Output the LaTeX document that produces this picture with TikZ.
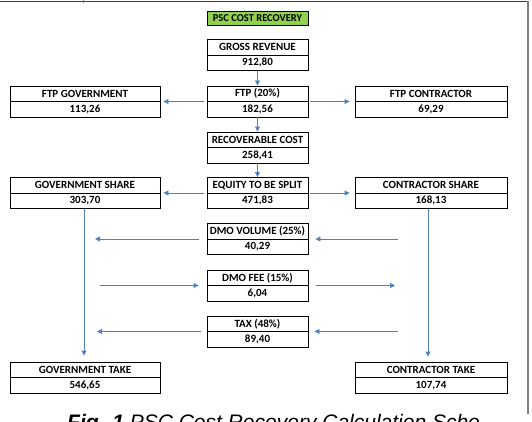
\documentclass[tikz,border=0pt]{standalone}
\usepackage{fontspec}
\setmainfont{Carlito}
\newfontfamily\capfont{Liberation Sans}
\usetikzlibrary{arrows.meta,calc}
\definecolor{arrblue}{RGB}{79,129,189}
\definecolor{titlegreen}{RGB}{146,208,80}
\definecolor{framedark}{RGB}{60,60,60}
\definecolor{framegray}{RGB}{128,128,128}
\tikzset{
  box/.style={draw=black, line width=0.9pt, minimum height=31pt, inner sep=0pt},
  titlebox/.style={draw=black, line width=0.9pt, fill=titlegreen, minimum width=101pt, minimum height=14pt, inner sep=0pt, font=\bfseries\fontsize{10.5}{12}\selectfont},
  txt/.style={font=\bfseries\fontsize{11}{13}\selectfont, inner sep=0pt},
  arr/.style={draw=arrblue, line width=0.9pt, -{Triangle[length=5pt,width=5pt]}},
  frametop/.style={draw=framedark, line width=1.2pt},
  frameside/.style={draw=framegray, line width=1.5pt},
  captext/.style={anchor=base west, inner sep=0pt, font=\capfont\fontsize{21}{24}\selectfont}
}
\newcommand\twobox[6]{%
  \node[box, minimum width=#4] (#1) at (#2,#3) {};
  \draw[line width=0.9pt] (#1.west) -- (#1.east);
  \node[txt] (#1-h) at ($(#1.center)+(0,-7.75)$) {#5};
  \node[txt] (#1-v) at ($(#1.center)+(0,7.75)$) {#6};
}
\begin{document}
\begin{tikzpicture}[x=1pt,y=-1pt]
\useasboundingbox (0,0) rectangle (532,422);
\clip (0,0) rectangle (532,422);
% frame
\draw[frametop] (0,1.5) -- (528,1.5);
\draw[frameside] (528,1) -- (528,414);
\draw[draw=framegray, line width=0.8pt] (83,0) -- (83,3);
% title
\node[titlebox] (title) at (257.5,18.5) {PSC COST RECOVERY};
% boxes
\twobox{gross}{257.5}{55}{101pt}{GROSS REVENUE}{912,80}
\twobox{ftp}{257.5}{101.5}{101pt}{FTP (20\%)}{182,56}
\twobox{ftpgov}{85}{101.5}{150pt}{FTP GOVERNMENT}{113,26}
\twobox{ftpcon}{431}{101.5}{152pt}{FTP CONTRACTOR}{69,29}
\twobox{rec}{257.5}{147.5}{101pt}{RECOVERABLE COST}{258,41}
\twobox{equity}{257.5}{193}{101pt}{EQUITY TO BE SPLIT}{471,83}
\twobox{govsh}{85}{193}{150pt}{GOVERNMENT SHARE}{303,70}
\twobox{consh}{431}{193}{152pt}{CONTRACTOR SHARE}{168,13}
\twobox{dmov}{257.5}{239}{101pt}{DMO VOLUME (25\%)}{40,29}
\twobox{dmof}{257.5}{285.5}{101pt}{DMO FEE (15\%)}{6,04}
\twobox{tax}{257.5}{331.5}{101pt}{TAX (48\%)}{89,40}
\twobox{govtake}{85}{377.5}{150pt}{GOVERNMENT TAKE}{546,65}
\twobox{contake}{431}{377.5}{152pt}{CONTRACTOR TAKE}{107,74}
% free ends
\coordinate (dvL) at (95,239);
\coordinate (dvR) at (398,239);
\coordinate (dfL) at (100,285.5);
\coordinate (dfR) at (395,285.5);
\coordinate (txL) at (97,331.5);
\coordinate (txR) at (398,331.5);
% connectors
\draw[arr] (gross) -- (ftp);
\draw[arr] (ftp) -- (rec);
\draw[arr] (rec) -- (equity);
\draw[arr] ([xshift=-3pt]ftp.west) -- ([xshift=3pt]ftpgov.east);
\draw[arr] ([xshift=2pt]ftp.east) -- ([xshift=-5pt]ftpcon.west);
\draw[arr] ([xshift=-3pt]equity.west) -- ([xshift=3pt]govsh.east);
\draw[arr] ([xshift=2pt]equity.east) -- ([xshift=-5pt]consh.west);
\draw[arr] ([xshift=-1pt]govsh.south) -- ([xshift=-1pt,yshift=6pt]govtake.north);
\draw[arr] ([xshift=-3pt]consh.south) -- ([xshift=-3pt,yshift=5pt]contake.north);
\draw[arr] ([xshift=-8pt]dmov.west) -- (dvL);
\draw[arr] (dvR) -- ([xshift=7pt]dmov.east);
\draw[arr] (dfL) -- ([xshift=-8pt]dmof.west);
\draw[arr] ([xshift=8pt]dmof.east) -- (dfR);
\draw[arr] ([xshift=-6pt]tax.west) -- (txL);
\draw[arr] (txR) -- ([xshift=6pt]tax.east);
% caption
\node[captext] (cap) at (67,429) {\textbf{\textit{Fig. 1}} \textit{PSC Cost Recovery Calculation Sche}};
\end{tikzpicture}
\end{document}
